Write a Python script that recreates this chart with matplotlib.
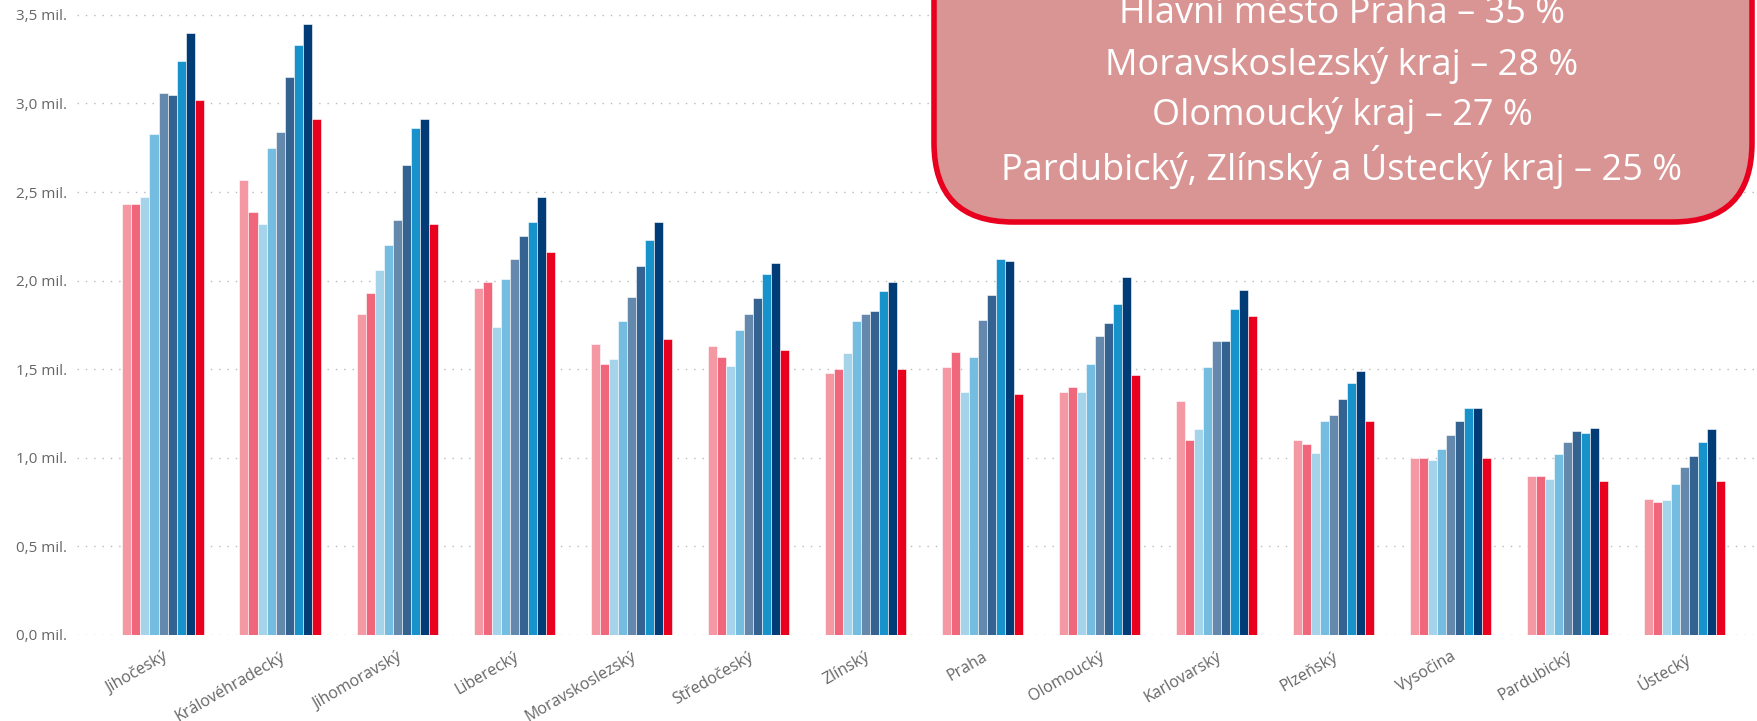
import matplotlib
matplotlib.use('Agg')
import matplotlib.pyplot as plt
from matplotlib.patches import FancyBboxPatch
import numpy as np

regions = ['Jihočeský', 'Královéhradecký', 'Jihomoravský', 'Liberecký', 'Moravskoslezský',
           'Středočeský', 'Zlínský', 'Praha', 'Olomoucký', 'Karlovarský', 'Plzeňský',
           'Vysočina', 'Pardubický', 'Ústecký']

# values in millions, one list per series (9 series per region)
s1 = [2.43, 2.57, 1.81, 1.96, 1.64, 1.63, 1.48, 1.51, 1.37, 1.32, 1.10, 1.00, 0.90, 0.77]
s2 = [2.43, 2.39, 1.93, 1.99, 1.53, 1.57, 1.50, 1.60, 1.40, 1.10, 1.08, 1.00, 0.90, 0.75]
s3 = [2.47, 2.32, 2.06, 1.74, 1.56, 1.52, 1.59, 1.37, 1.37, 1.16, 1.03, 0.99, 0.88, 0.76]
s4 = [2.83, 2.75, 2.20, 2.01, 1.77, 1.72, 1.77, 1.57, 1.53, 1.51, 1.21, 1.05, 1.02, 0.85]
s5 = [3.06, 2.84, 2.34, 2.12, 1.91, 1.81, 1.81, 1.78, 1.69, 1.66, 1.24, 1.13, 1.09, 0.95]
s6 = [3.05, 3.15, 2.65, 2.25, 2.08, 1.90, 1.83, 1.92, 1.76, 1.66, 1.33, 1.21, 1.15, 1.01]
s7 = [3.24, 3.33, 2.86, 2.33, 2.23, 2.04, 1.94, 2.12, 1.87, 1.84, 1.42, 1.28, 1.14, 1.09]
s8 = [3.40, 3.45, 2.91, 2.47, 2.33, 2.10, 1.99, 2.11, 2.02, 1.95, 1.49, 1.28, 1.17, 1.16]
s9 = [3.02, 2.91, 2.32, 2.16, 1.67, 1.61, 1.50, 1.36, 1.47, 1.80, 1.21, 1.00, 0.87, 0.87]
series = [s1, s2, s3, s4, s5, s6, s7, s8, s9]

colors = ['#f499a3', '#f0667b', '#a5d3ea', '#75bde0', '#6588ad', '#346392',
          '#1892ca', '#023c77', '#e8001e']

yticks = [0.0, 0.5, 1.0, 1.5, 2.0, 2.5, 3.0, 3.5]
ytick_labels = ['0,0 mil.', '0,5 mil.', '1,0 mil.', '1,5 mil.', '2,0 mil.',
                '2,5 mil.', '3,0 mil.', '3,5 mil.']

box_lines = ['Hlavní město Praha – 35 %', 'Moravskoslezský kraj – 28 %',
             'Olomoucký kraj – 27 %', 'Pardubický, Zlínský a Ústecký kraj – 25 %']

plt.rcParams['font.family'] = ['Open Sans', 'DejaVu Sans']

fig = plt.figure(figsize=(17.58, 7.21), dpi=100)
ax = fig.add_axes([77 / 1758, 1 - 635 / 721, 1 - 77 / 1758, 635 / 721])

x = np.arange(len(regions))
w = 0.077
for i, (vals, c) in enumerate(zip(series, colors)):
    ax.bar(x + (i - 4) * w, vals, width=w, color=c, edgecolor='white',
           linewidth=0.4, zorder=3)

ax.set_xlim(-0.735, 13.63)
ax.set_ylim(0, 3.584)
ax.set_yticks(yticks)
ax.set_yticklabels(ytick_labels, fontsize=11, color='#666666')
ax.set_xticks(x)
ax.set_xticklabels(regions, rotation=30, ha='right', rotation_mode='anchor',
                   fontsize=11.5, color='#666666')
ax.tick_params(length=0, pad=7)
ax.tick_params(axis='x', pad=10)
ax.grid(axis='y', linestyle=(0, (1, 5)), color='#bbbbbb', linewidth=1.0, zorder=0)
for sp in ax.spines.values():
    sp.set_visible(False)

# annotation box (top cut off by the figure edge)
box = FancyBboxPatch((934 / 1758, 1 - 222 / 721), (1752 - 934) / 1758, 0.5,
                     boxstyle='round,pad=0,rounding_size=0.045',
                     transform=fig.transFigure, facecolor='#d99594',
                     edgecolor='#e8001e', linewidth=4, zorder=10,
                     mutation_aspect=1758 / 721)
fig.patches.append(box)
for k, line in enumerate(box_lines):
    fig.text(1342 / 1758, 1 - (14 + 51 * k) / 721, line, ha='center', va='center',
             fontsize=26, color='white', zorder=11)

plt.savefig('out.png', dpi=100)
plt.close()
